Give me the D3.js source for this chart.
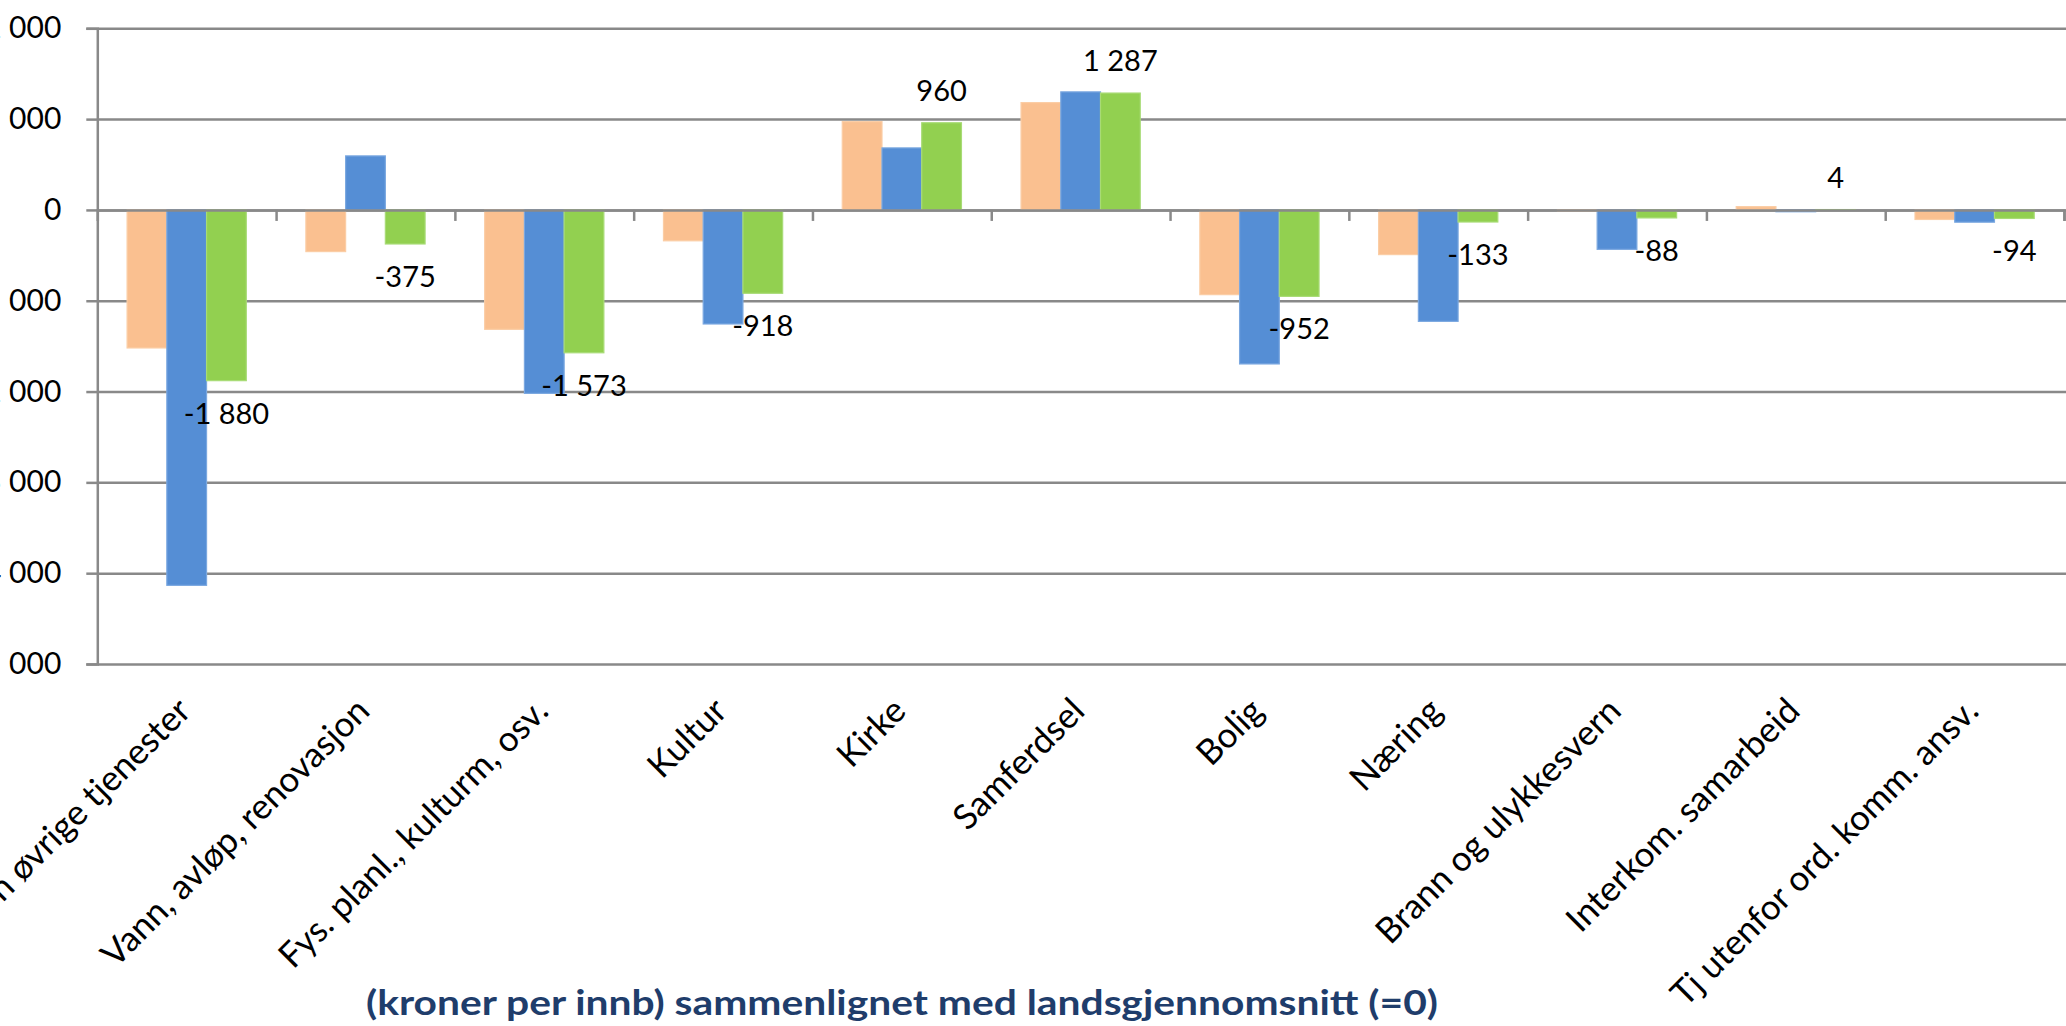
<!DOCTYPE html>
<html>
<head>
<meta charset="utf-8">
<script src="https://cdn.jsdelivr.net/npm/d3@7"></script>
<style>
    html, body { margin: 0; padding: 0; background: #fff; overflow: hidden; }
    svg { display: block; }
</style>
</head>
<body>
<svg width="2066" height="1026"></svg>
<script>
// Categories along the x axis
const categories = [
    "Administrasjon øvrige tjenester",
    "Vann, avløp, renovasjon",
    "Fys. planl., kulturm, osv.",
    "Kultur",
    "Kirke",
    "Samferdsel",
    "Bolig",
    "Næring",
    "Brann og ulykkesvern",
    "Interkom. samarbeid",
    "Tj utenfor ord. komm. ansv."
];

// Series values (kroner per innbygger, difference from national average)
const orangeValues = [-1520, -459, -1315, -340, 972, 1182, -933, -492, -12, 36, -105];
const blueValues = [-4134, 595, -2020, -1256, 683, 1300, -1696, -1227, -434, -20, -135];
const greenValues = [-1880, -375, -1573, -918, 960, 1287, -952, -133, -88, 4, -94];

// Y axis ticks
const yTicks = [2000, 1000, 0, -1000, -2000, -3000, -4000, -5000];

const seriesNames = ["orange", "blue", "green"];

(function () {
    const svg = d3.select("svg"),
        width = +svg.attr("width"),
        height = +svg.attr("height");

    const plot = { left: 97.3, right: 2064, top: 28.3, bottom: 664 };

    // Norwegian style number format: space as thousands separator, hyphen minus
    const nb = d3.formatLocale({
        decimal: ",",
        thousands: "\u00a0",
        grouping: [3],
        currency: ["", " kr"],
        minus: "-"
    });
    const fmt = nb.format(",d");

    const colors = {
        orange: { fill: "#FAC090", stroke: "#FBCDA5" },
        blue: { fill: "#558ED5", stroke: "#7BA8E0" },
        green: { fill: "#92D050", stroke: "#A8DB76" }
    };

    const table = categories.map((c, i) => ({
        category: c,
        orange: orangeValues[i],
        blue: blueValues[i],
        green: greenValues[i]
    }));

    // Scales
    const y = d3.scaleLinear().domain([-5000, 2000]).range([plot.bottom, plot.top]);
    const x = d3.scaleBand().domain(categories).range([plot.left, plot.right]).padding(0);
    const xs = d3.scaleBand().domain(seriesNames).range([0, x.bandwidth()]).paddingInner(0).paddingOuter(0.75);
    const xEdge = d3.scaleLinear().domain([0, categories.length]).range([plot.left, plot.right]);

    const gridColor = "#898989";

    // Horizontal gridlines
    const grid = svg.append("g")
        .attr("transform", `translate(${plot.left},0)`)
        .call(d3.axisLeft(y).tickValues(yTicks).tickSize(-(width - plot.left)).tickFormat(""));
    grid.select(".domain").remove();
    grid.selectAll("line").attr("stroke", gridColor).attr("stroke-width", 2.5);

    // Y axis with outside ticks and labels
    const yAxis = svg.append("g")
        .attr("transform", `translate(${plot.left},0)`)
        .call(d3.axisLeft(y).tickValues(yTicks).tickSize(11).tickPadding(25).tickFormat(fmt));
    yAxis.select(".domain").attr("stroke", gridColor).attr("stroke-width", 2.5);
    yAxis.selectAll("line").attr("stroke", gridColor).attr("stroke-width", 2.5);
    yAxis.selectAll("text")
        .style("font-family", "Lato, 'Open Sans', sans-serif")
        .style("font-size", "30px")
        .attr("fill", "#000");

    // Bars
    const groups = svg.append("g")
        .selectAll("g")
        .data(table)
        .enter()
        .append("g")
        .attr("transform", (d) => `translate(${x(d.category)},0)`);

    groups.selectAll("rect")
        .data((d) => seriesNames.map((s) => ({ key: s, value: d[s] })))
        .enter()
        .append("rect")
        .attr("x", (d) => xs(d.key))
        .attr("width", xs.bandwidth())
        .attr("y", (d) => y(Math.max(0, d.value)))
        .attr("height", (d) => Math.abs(y(d.value) - y(0)))
        .attr("fill", (d) => colors[d.key].fill)
        .attr("stroke", (d) => colors[d.key].stroke)
        .attr("stroke-width", 1.2);

    // Category axis at zero with tick marks between groups
    const xAxis = svg.append("g")
        .attr("transform", `translate(0,${y(0)})`)
        .call(d3.axisBottom(xEdge).tickValues(d3.range(1, categories.length + 1)).tickSize(11).tickFormat(""));
    xAxis.select(".domain").attr("stroke", gridColor).attr("stroke-width", 2.5);
    xAxis.selectAll("line").attr("stroke", gridColor).attr("stroke-width", 2.5);

    // Data labels for the green series
    svg.append("g")
        .selectAll("text")
        .data(table)
        .enter()
        .append("text")
        .attr("x", (d) => x(d.category) + xs("green") + xs.bandwidth() / 2)
        .attr("y", (d) => d.green >= 0 ? y(d.green) - 22 : y(d.green) + 43)
        .attr("text-anchor", "middle")
        .style("font-family", "Lato, 'Open Sans', sans-serif")
        .style("font-size", "29px")
        .attr("fill", "#000")
        .text((d) => fmt(d.green));

    // Rotated category labels
    svg.append("g")
        .selectAll("text")
        .data(categories)
        .enter()
        .append("text")
        .attr("transform", (d) => `translate(${x(d) + x.bandwidth() / 2 + 6},713) rotate(-45)`)
        .attr("text-anchor", "end")
        .style("font-family", "Lato, 'Open Sans', sans-serif")
        .style("font-size", "35px")
        .attr("fill", "#000")
        .text((d) => d);

    // Axis title
    svg.append("text")
        .attr("x", 902)
        .attr("y", 1015)
        .attr("text-anchor", "middle")
        .attr("textLength", 1072)
        .attr("lengthAdjust", "spacingAndGlyphs")
        .style("font-family", "Lato, 'Open Sans', sans-serif")
        .style("font-weight", "bold")
        .style("font-size", "34px")
        .attr("fill", "#1F3D6B")
        .text("(kroner per innb) sammenlignet med landsgjennomsnitt (=0)");
})();
</script>
</body>
</html>
